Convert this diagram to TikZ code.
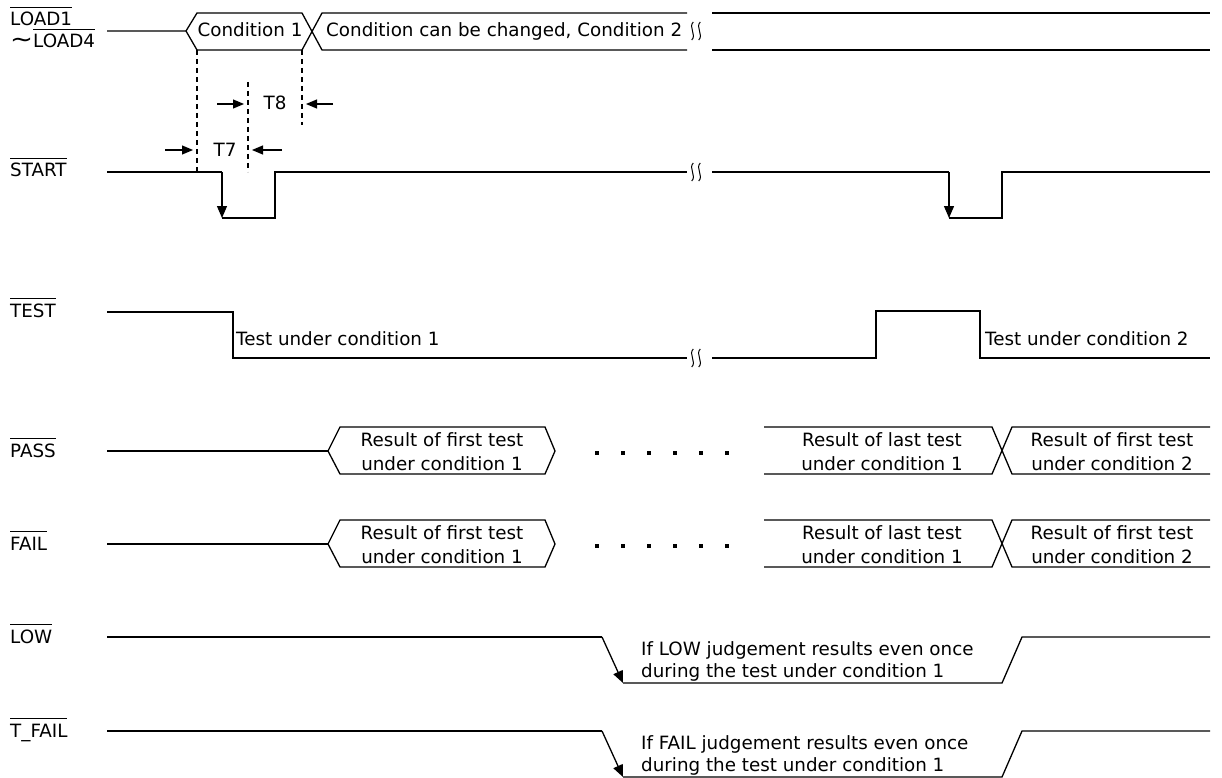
\documentclass[tikz,border=0pt]{standalone}
\usepackage{fontspec}
\setmainfont{DejaVu Sans}
\usetikzlibrary{arrows.meta, positioning}
\newcommand{\ovl}[1]{\vbox{\hrule height 1.1pt\kern 4.2pt\hbox{#1}}}

\begin{document}
\begin{tikzpicture}[x=1pt, y=-1pt,
  font=\fontsize{18.3}{22}\selectfont,
  sig/.style={line width=1.3pt, line join=miter},
  guide/.style={line width=1.3pt, dash pattern=on 5pt off 4pt},
  edgearr/.style={-{Triangle[length=12pt, width=10pt]}},
  dimarr/.style={-{Triangle[length=11pt, width=9pt]}, line width=1.2pt},
  lbl/.style={anchor=base west, inner sep=0pt},
  txt/.style={anchor=base, inner sep=0pt},
  wavebreak/.pic={
    \foreach \s in {-3.5,3.5}
      \draw[line width=1pt] (\s+0.8,-9) .. controls (\s-4.5,-4) and (\s+4.5,4) .. (\s-0.8,9);
  },
]
\useasboundingbox (0,0) rectangle (1222,778);
\node[lbl] (load1) at (10,26) {\ovl{LOAD1}};
\node[lbl] (load4) at (10,48) {\scalebox{1.5}[1.3]{∼}\ovl{LOAD4}};
\node[lbl] (start) at (10,177) {\ovl{START}};
\node[lbl] (test)  at (10,317) {\ovl{TEST}};
\node[lbl] (pass)  at (10,457) {\ovl{PASS}};
\node[lbl] (fail)  at (10,550) {\ovl{FAIL}};
\node[lbl] (low)   at (10,643) {\ovl{LOW}};
\node[lbl] (tfail) at (10,737) {\ovl{T\_FAIL}};

\draw[sig] (107,31) -- (186,31) -- (197,13) -- (302,13) -- (322,50) -- (687,50);
\draw[sig] (186,31) -- (197,50) -- (302,50) -- (322,13) -- (687,13);
\draw[sig] (712,13) -- (1210,13);
\draw[sig] (712,50) -- (1210,50);
\pic at (696,31) {wavebreak};
\node[txt] (cond1) at (250,37) {Condition 1};
\node[txt, anchor=base west] (cond2) at (326,37) {Condition can be changed, Condition 2};

\draw[guide] (197,50) -- (197,172);
\draw[guide] (248,82) -- (248,172);
\draw[guide] (302,50) -- (302,125);
\node[txt] (t8) at (275,110) {T8};
\node[txt] (t7) at (225,157) {T7};
\draw[dimarr] (217,104) -- (244,104);
\draw[dimarr] (333,104) -- (306,104);
\draw[dimarr] (165,150) -- (193,150);
\draw[dimarr] (282,150) -- (252,150);

\draw[sig] (107,172) -- (222,172);
\draw[sig, edgearr] (222,172) -- (222,218);
\draw[sig] (222,218) -- (275,218) -- (275,172) -- (687,172);
\pic at (696,172) {wavebreak};
\draw[sig] (712,172) -- (949,172);
\draw[sig, edgearr] (949,172) -- (949,218);
\draw[sig] (949,218) -- (1002,218) -- (1002,172) -- (1210,172);

\draw[sig] (107,312) -- (233,312) -- (233,358) -- (687,358);
\pic at (696,358) {wavebreak};
\draw[sig] (712,358) -- (876,358) -- (876,311) -- (980,311) -- (980,358) -- (1210,358);
\node[txt, anchor=base west] (test1) at (236,345) {Test under condition 1};
\node[txt, anchor=base west] (test2) at (985,345) {Test under condition 2};

\foreach \y/\n in {451/pass, 544/fail} {
  \draw[sig] (107,\y) -- (328,\y);
  \draw[sig] (328,\y) -- (340,\y-24) -- (545,\y-24) -- (555,\y) -- (545,\y+23) -- (340,\y+23) -- cycle;
  \foreach \d in {0,...,5}
    \fill (597+26*\d-1.6,\y+0.4) rectangle ++(3.2,3.2);
  \draw[sig] (764,\y-24) -- (992,\y-24) -- (1012,\y+23) -- (1210,\y+23);
  \draw[sig] (764,\y+23) -- (992,\y+23) -- (1012,\y-24) -- (1210,\y-24);
  \node[txt] (\n first1a) at (442,\y-5) {Result of first test};
  \node[txt] (\n first1b) at (442,\y+19) {under condition 1};
  \node[txt] (\n last1a)  at (882,\y-5) {Result of last test};
  \node[txt] (\n last1b)  at (882,\y+19) {under condition 1};
  \node[txt] (\n first2a) at (1112,\y-5) {Result of first test};
  \node[txt] (\n first2b) at (1112,\y+19) {under condition 2};
}

\foreach \y/\w in {637/LOW, 731/FAIL} {
  \draw[sig] (107,\y) -- (602,\y);
  \draw[sig, edgearr] (602,\y) -- (623,\y+46);
  \draw[sig] (623,\y+46) -- (1002,\y+46) -- (1022,\y) -- (1210,\y);
  \node[txt, anchor=base west] (if\w) at (641,\y+18) {If \w\ judgement results even once};
  \node[txt, anchor=base west] (dur\w) at (641,\y+40) {during the test under condition 1};
}
\end{tikzpicture}
\end{document}
